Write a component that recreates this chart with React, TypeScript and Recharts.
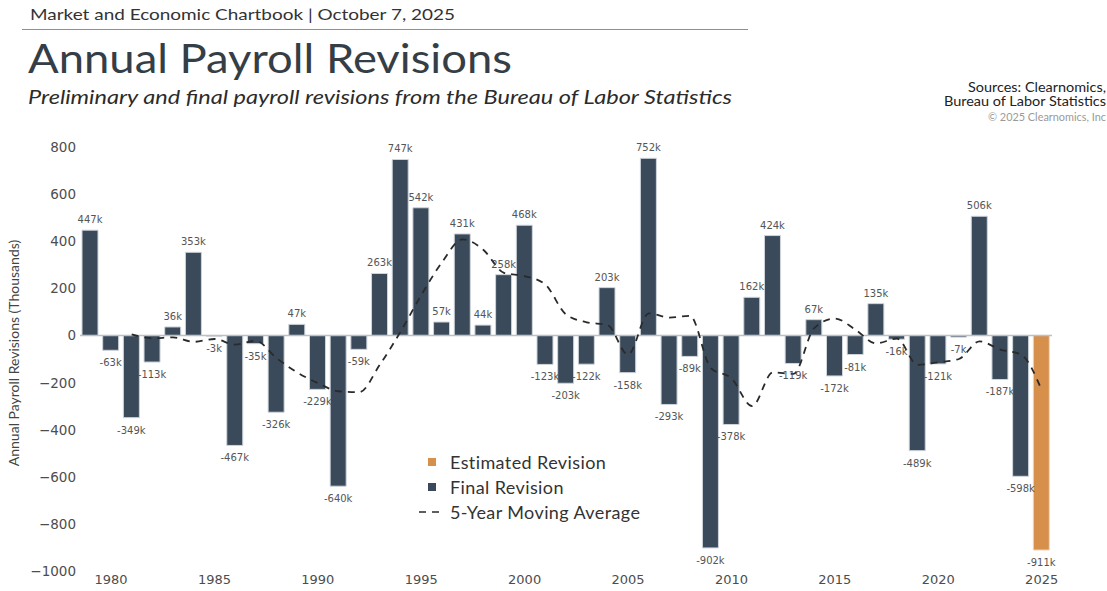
import React from "react";
import {
  ComposedChart,
  Bar,
  Line,
  XAxis,
  YAxis,
  ReferenceLine,
  LabelList,
  Legend,
} from "recharts";

const years = [
  1979, 1980, 1981, 1982, 1983, 1984, 1985, 1986, 1987, 1988, 1989, 1990,
  1991, 1992, 1993, 1994, 1995, 1996, 1997, 1998, 1999, 2000, 2001, 2002,
  2003, 2004, 2005, 2006, 2007, 2008, 2009, 2010, 2011, 2012, 2013, 2014,
  2015, 2016, 2017, 2018, 2019, 2020, 2021, 2022, 2023, 2024, 2025,
];

const finalRevision = [
  447, -63, -349, -113, 36, 353, -3, -467, -35, -326, 47, -229, -640, -59, 263,
  747, 542, 57, 431, 44, 258, 468, -123, -203, -122, 203, -158, 752, -293, -89,
  -902, -378, 162, 424, -119, 67, -172, -81, 135, -16, -489, -121, -7, 506,
  -187, -598, null,
];

const estimatedYears = [2025];
const estimatedValues = [-911];

const movingAverage = [
  null, null, 5, -12, -8, -27, -15, -39, -23, -96, -157, -202, -237, -241,
  -124, 16, 171, 310, 408, 364, 266, 252, 216, 89, 56, 45, -81, 94, 76, 83,
  -138, -182, -300, -157, -163, 31, 72, 24, -34, -13, -125, -114, -100, -25,
  -60, -81, -232,
];

const yTicks = [800, 600, 400, 200, 0, -200, -400, -600, -800, -1000];

const FINAL_COLOR = "#3a4a5b";
const EST_COLOR = "#d6904b";
const MA_COLOR = "#2a2a2a";

const data = years.map((year, i) => {
  const ei = estimatedYears.indexOf(year);
  return {
    year,
    final: finalRevision[i],
    est: ei >= 0 ? estimatedValues[ei] : null,
    ma: movingAverage[i],
  };
});

const BarValueLabel = (props: any) => {
  const { x, y, width, height, value } = props;
  if (value === null || value === undefined) return null;
  const top = Math.min(y, y + height);
  const bottom = Math.max(y, y + height);
  const cx = x + width / 2;
  const ty = value >= 0 ? top - 7 : bottom + 16;
  return (
    <text
      x={cx}
      y={ty}
      textAnchor="middle"
      fontFamily="DejaVu Sans"
      fontSize={10}
      fill="#555"
    >
      {`${value}k`}
    </text>
  );
};

const XTick = (props: any) => {
  const { x, y, payload } = props;
  if (payload.value % 5 !== 0) return null;
  return (
    <text
      x={x}
      y={y + 13}
      textAnchor="middle"
      fontFamily="DejaVu Sans"
      fontSize={13}
      fill="#4d4d4d"
    >
      {payload.value}
    </text>
  );
};

const YTick = (props: any) => {
  const { x, y, payload } = props;
  const label = String(payload.value).replace("-", "\u2212");
  return (
    <text
      x={x}
      y={y + 5}
      textAnchor="end"
      fontFamily="DejaVu Sans"
      fontSize={13.5}
      fill="#4d4d4d"
    >
      {label}
    </text>
  );
};

const YTitle = () => (
  <text
    x={13}
    y={353}
    transform="rotate(-90 13 353)"
    textAnchor="middle"
    dominantBaseline="central"
    fontFamily="Lato"
    fontSize={14}
    fill="#444"
  >
    Annual Payroll Revisions (Thousands)
  </text>
);

const legendItems = [
  { label: "Estimated Revision", color: EST_COLOR, kind: "square" },
  { label: "Final Revision", color: FINAL_COLOR, kind: "square" },
  { label: "5-Year Moving Average", color: MA_COLOR, kind: "dash" },
];

const LegendContent = () => (
  <div style={{ fontFamily: "Lato", fontSize: 18, letterSpacing: 0.4, color: "#333" }}>
    {legendItems.map((it) => (
      <div
        key={it.label}
        style={{ display: "flex", alignItems: "center", height: 25 }}
      >
        <svg width={28} height={12} style={{ marginRight: 5 }}>
          {it.kind === "square" ? (
            <rect x={11} y={2} width={8} height={8} fill={it.color} />
          ) : (
            <line
              x1={2}
              y1={6}
              x2={26}
              y2={6}
              stroke={it.color}
              strokeWidth={1.5}
              strokeDasharray="7 6"
            />
          )}
        </svg>
        <span>{it.label}</span>
      </div>
    ))}
  </div>
);

export default function App() {
  return (
    <div
      style={{
        position: "absolute",
        left: 0,
        top: 0,
        width: 1107,
        height: 591,
        background: "#fff",
        overflow: "hidden",
      }}
    >
      <svg
        width={1107}
        height={140}
        style={{ position: "absolute", left: 0, top: 0 }}
      >
        <text
          x={30}
          y={20}
          fontFamily="Lato"
          fontSize={16}
          fill="#333"
          textLength={425}
          lengthAdjust="spacingAndGlyphs"
        >
          Market and Economic Chartbook | October 7, 2025
        </text>
        <line x1={22} y1={29.5} x2={748} y2={29.5} stroke="#8a9096" strokeWidth={1} />
        <text
          x={28}
          y={73}
          fontFamily="Lato"
          fontSize={41}
          fill="#353e47"
          textLength={484}
          lengthAdjust="spacingAndGlyphs"
        >
          Annual Payroll Revisions
        </text>
        <text
          x={28}
          y={104}
          fontFamily="Lato"
          fontStyle="italic"
          fontSize={19}
          fill="#2b2b2b"
          textLength={704}
          lengthAdjust="spacingAndGlyphs"
        >
          Preliminary and final payroll revisions from the Bureau of Labor Statistics
        </text>
        <text
          x={1106}
          y={92}
          textAnchor="end"
          fontFamily="Lato"
          fontSize={13.5}
          fill="#222"
          textLength={138}
          lengthAdjust="spacingAndGlyphs"
        >
          Sources: Clearnomics,
        </text>
        <text
          x={1106}
          y={106}
          textAnchor="end"
          fontFamily="Lato"
          fontSize={13.5}
          fill="#222"
          textLength={162}
          lengthAdjust="spacingAndGlyphs"
        >
          Bureau of Labor Statistics
        </text>
        <text
          x={1106}
          y={121}
          textAnchor="end"
          fontFamily="Lato"
          fontSize={10.5}
          fill="#9a9a9a"
          textLength={118}
          lengthAdjust="spacingAndGlyphs"
        >
          © 2025 Clearnomics, Inc
        </text>
      </svg>
      <div style={{ position: "absolute", left: 0, top: 0 }}>
        <ComposedChart
          width={1107}
          height={591}
          data={data}
          margin={{ top: 147, right: 55, bottom: 0, left: 0 }}
        >
          <XAxis
            dataKey="year"
            type="category"
            interval={0}
            tick={<XTick />}
            tickLine={false}
            axisLine={false}
            tickSize={0}
            tickMargin={0}
            height={20}
          />
          <YAxis
            domain={[-1000, 800]}
            ticks={yTicks}
            tick={<YTick />}
            tickLine={false}
            axisLine={false}
            tickSize={0}
            tickMargin={4}
            width={80}
            interval={0}
            label={<YTitle />}
          />
          <Bar
            dataKey="final"
            name="Final Revision"
            stackId="rev"
            fill={FINAL_COLOR}
            stroke="#cfd5db"
            strokeWidth={1}
            barSize={16}
            isAnimationActive={false}
          >
            <LabelList dataKey="final" content={<BarValueLabel />} />
          </Bar>
          <Bar
            dataKey="est"
            name="Estimated Revision"
            stackId="rev"
            fill={EST_COLOR}
            stroke="#f0d6bb"
            strokeWidth={1}
            barSize={16}
            isAnimationActive={false}
          >
            <LabelList dataKey="est" content={<BarValueLabel />} />
          </Bar>
          <ReferenceLine y={0} stroke="#b9c0c6" strokeWidth={1.5} />
          <Line
            dataKey="ma"
            name="5-Year Moving Average"
            type="monotone"
            stroke={MA_COLOR}
            strokeWidth={1.8}
            strokeDasharray="7 6"
            dot={false}
            activeDot={false}
            connectNulls={false}
            isAnimationActive={false}
          />
          <Legend
            layout="vertical"
            align="center"
            verticalAlign="middle"
            content={<LegendContent />}
            wrapperStyle={{ position: "absolute", left: 417, top: 449, width: 260, height: 80 }}
          />
        </ComposedChart>
      </div>
    </div>
  );
}
